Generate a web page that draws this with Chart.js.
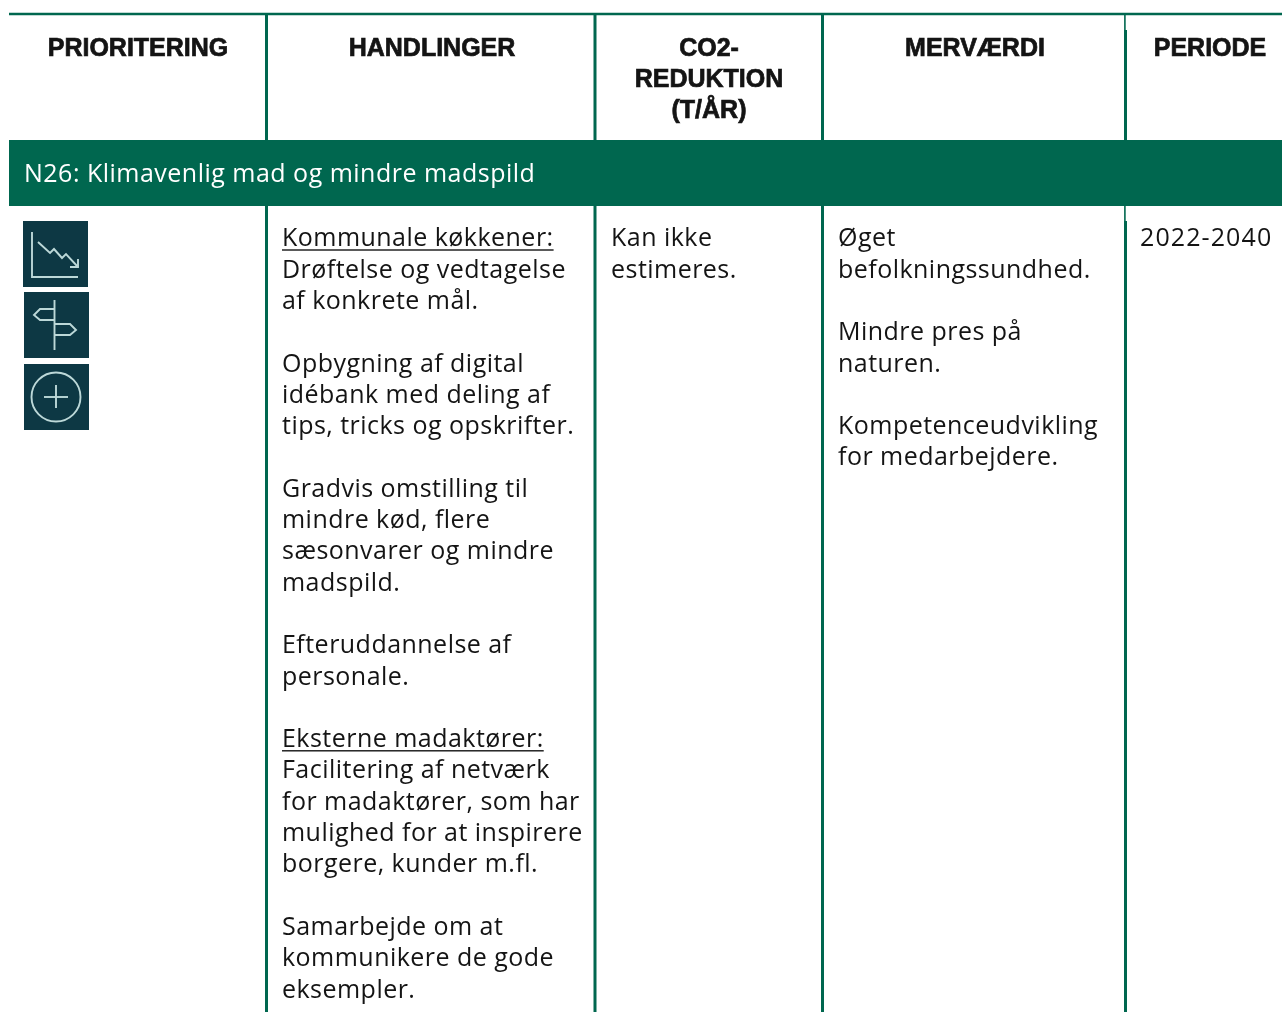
<!DOCTYPE html>
<html lang="da">
<head>
<meta charset="utf-8">
<title>N26: Klimavenlig mad og mindre madspild</title>
<script src="https://cdn.jsdelivr.net/npm/chart.js@4/dist/chart.umd.min.js"></script>
<style>
    html, body { margin: 0; padding: 0; background: #fff; }
    canvas { display: block; }
</style>
</head>
<body>
<canvas id="table" width="1282" height="1012"></canvas>
<script>
const headers = [
    ['PRIORITERING'],
    ['HANDLINGER'],
    ['CO2-', 'REDUKTION', '(T/ÅR)'],
    ['MERVÆRDI'],
    ['PERIODE']
];
const sectionTitle = 'N26: Klimavenlig mad og mindre madspild';
const handlinger = [
    'Kommunale køkkener:', 'Drøftelse og vedtagelse', 'af konkrete mål.', '',
    'Opbygning af digital', 'idébank med deling af', 'tips, tricks og opskrifter.', '',
    'Gradvis omstilling til', 'mindre kød, flere', 'sæsonvarer og mindre', 'madspild.', '',
    'Efteruddannelse af', 'personale.', '',
    'Eksterne madaktører:', 'Facilitering af netværk', 'for madaktører, som har', 'mulighed for at inspirere', 'borgere, kunder m.fl.', '',
    'Samarbejde om at', 'kommunikere de gode', 'eksempler.'
];
const underlined = ['Kommunale køkkener:', 'Eksterne madaktører:'];
const reduktion = ['Kan ikke', 'estimeres.'];
const mervaerdi = [
    'Øget', 'befolkningssundhed.', '',
    'Mindre pres på', 'naturen.', '',
    'Kompetenceudvikling', 'for medarbejdere.'
];
const periode = ['2022-2040'];

// table geometry, in page pixels (the axes run 0-1282 and 0-1012)
const colEdges = [266.5, 595, 822.5];
const lastEdge = 1125.5;
const headerCenters = [138, 432, 709, 975, 1210];
const bodyLefts = [282, 611, 838, 1140];
const ruleTop = 14, bandTop = 140, bandBottom = 206, pageBottom = 1012, tableLeft = 9, tableRight = 1282;
const green = '#00674f';
const ink = '#141414';
const bodyFont = '400 25px "Open Sans"';
const headFont = '700 25px "Liberation Sans"';
const linePitch = 31.3;
const bodyBaseline = 246.3;
const headBaseline = 56;

const ruleData = [];
colEdges.forEach(x => {
    ruleData.push({ x, y: ruleTop }, { x, y: bandTop }, { x: null, y: null });
    ruleData.push({ x, y: bandBottom }, { x, y: pageBottom }, { x: null, y: null });
});
// the last rule is thinner for a short stretch under the top rule and under the band
ruleData.push({ x: lastEdge, y: ruleTop + 16 }, { x: lastEdge, y: bandTop }, { x: null, y: null });
ruleData.push({ x: lastEdge, y: bandBottom + 15 }, { x: lastEdge, y: pageBottom });
const thinRuleData = [
    { x: lastEdge - 0.6, y: ruleTop }, { x: lastEdge - 0.6, y: ruleTop + 16 }, { x: null, y: null },
    { x: lastEdge - 0.6, y: bandBottom }, { x: lastEdge - 0.6, y: bandBottom + 15 }
];

function strokePath(ctx, points) {
    ctx.beginPath();
    points.forEach(([x, y], i) => i ? ctx.lineTo(x, y) : ctx.moveTo(x, y));
    ctx.stroke();
}

function drawIcons(ctx) {
    ctx.save();
    ctx.fillStyle = '#0d3844';
    ctx.fillRect(23, 221, 65, 66);
    ctx.fillRect(24, 292, 65, 66);
    ctx.fillRect(24, 364, 65, 66);
    ctx.strokeStyle = '#bcd8d8';
    ctx.lineWidth = 1.9;
    // falling curve
    strokePath(ctx, [[32, 232], [32, 277], [78, 277]]);
    strokePath(ctx, [[38, 242], [50, 253], [54, 249], [62, 258], [66, 254], [78, 267]]);
    strokePath(ctx, [[70, 267], [78, 267], [78, 259]]);
    // signpost
    strokePath(ctx, [[54.5, 300], [54.5, 350]]);
    strokePath(ctx, [[54, 309], [40, 309], [34, 315], [40, 320], [54, 320]]);
    strokePath(ctx, [[54, 324], [70, 324], [76, 330], [70, 335], [54, 335]]);
    // plus in circle
    ctx.beginPath();
    ctx.arc(56, 397, 24.5, 0, Math.PI * 2);
    ctx.stroke();
    strokePath(ctx, [[44, 397], [68, 397]]);
    strokePath(ctx, [[56, 385], [56, 408]]);
    ctx.restore();
}

function drawColumn(ctx, lines, left) {
    lines.forEach((line, i) => {
        if (!line) return;
        const y = bodyBaseline + i * linePitch;
        ctx.fillText(line, left, y);
        if (underlined.includes(line)) {
            ctx.fillRect(left, y + 3, ctx.measureText(line).width, 1.4);
        }
    });
}

const tableText = {
    id: 'tableText',
    afterDatasetsDraw(chart) {
        const ctx = chart.ctx;
        drawIcons(ctx);
        ctx.save();
        ctx.textBaseline = 'alphabetic';
        ctx.fillStyle = ink;
        ctx.strokeStyle = ink;

        // the header face is heavier than Liberation bold, so it gets a thin outline
        ctx.font = headFont;
        ctx.textAlign = 'center';
        ctx.lineWidth = 0.7;
        headers.forEach((lines, c) => {
            lines.forEach((line, i) => {
                ctx.fillText(line, headerCenters[c], headBaseline + i * 31);
                ctx.strokeText(line, headerCenters[c], headBaseline + i * 31);
            });
        });

        ctx.textAlign = 'left';
        ctx.font = bodyFont;
        ctx.letterSpacing = '0.47px';
        drawColumn(ctx, handlinger, bodyLefts[0]);
        drawColumn(ctx, reduktion, bodyLefts[1]);
        drawColumn(ctx, mervaerdi, bodyLefts[2]);
        ctx.letterSpacing = '1.1px';
        drawColumn(ctx, periode, bodyLefts[3]);

        ctx.letterSpacing = '0.49px';
        ctx.fillStyle = '#ffffff';
        ctx.fillText(sectionTitle, 24, 182);
        ctx.restore();
    }
};

new Chart(document.getElementById('table'), {
    type: 'scatter',
    data: {
        datasets: [
            {
                label: 'Kolonner',
                data: ruleData,
                showLine: true,
                spanGaps: false,
                pointRadius: 0,
                borderColor: green,
                borderWidth: 3,
                clip: false,
                order: 4
            },
            {
                label: 'Tynd kant',
                data: thinRuleData,
                showLine: true,
                spanGaps: false,
                pointRadius: 0,
                borderColor: green,
                borderWidth: 1.6,
                clip: false,
                order: 3
            },
            {
                label: 'Top',
                data: [{ x: tableLeft, y: ruleTop }, { x: tableRight, y: ruleTop }],
                showLine: true,
                pointRadius: 0,
                borderColor: green,
                borderWidth: 2.5,
                clip: false,
                order: 2
            },
            {
                label: 'Sektion',
                data: [{ x: tableLeft, y: (bandTop + bandBottom) / 2 }, { x: tableRight, y: (bandTop + bandBottom) / 2 }],
                showLine: true,
                pointRadius: 0,
                borderColor: green,
                borderWidth: bandBottom - bandTop,
                borderCapStyle: 'butt',
                clip: false,
                order: 1
            }
        ]
    },
    options: {
        responsive: false,
        animation: false,
        layout: { padding: 0 },
        plugins: { legend: { display: false }, title: { display: false }, tooltip: { enabled: false } },
        scales: {
            x: { type: 'linear', display: false, min: 0, max: 1282 },
            y: { type: 'linear', display: false, min: 0, max: 1012, reverse: true }
        }
    },
    plugins: [tableText]
});
</script>
</body>
</html>
